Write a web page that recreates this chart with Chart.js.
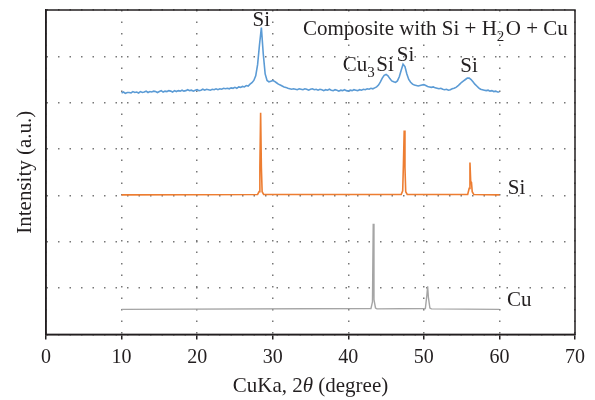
<!DOCTYPE html>
<html>
<head>
<meta charset="utf-8">
<script src="https://cdn.jsdelivr.net/npm/chart.js@4/dist/chart.umd.min.js"></script>
<style>
  html, body { margin: 0; padding: 0; background: #fff; }
  #wrap { width: 595px; height: 400px; }
</style>
</head>
<body>
<div id="wrap"><canvas id="xrd"></canvas></div>
<script>
// Eixo x: 0..70 graus, marcas a cada 10
const xTicks = [0, 10, 20, 30, 40, 50, 60, 70];

// Compósito (azul): amostrado de 10 a 60 em passos de 0.25 grau
const compStart = 10;
const compStep = 0.25;
const compValues = [
  5.21, 5.23, 5.20, 5.22,  5.22, 5.21, 5.24, 5.22,  5.23, 5.21, 5.24, 5.22,
  5.23, 5.25, 5.22, 5.24,  5.23, 5.25, 5.24, 5.22,  5.24, 5.26, 5.23, 5.25,
  5.24, 5.26, 5.25, 5.23,  5.26, 5.24, 5.26, 5.25,  5.27, 5.25, 5.26, 5.28,
  5.26, 5.27, 5.25, 5.27,  5.28, 5.26, 5.27, 5.29,  5.27, 5.29, 5.28, 5.27,
  5.29, 5.28, 5.30, 5.28,  5.30, 5.29, 5.31, 5.30,  5.31, 5.30, 5.32, 5.31,
  5.33, 5.31, 5.34, 5.33,  5.35, 5.34, 5.37, 5.36,  5.40, 5.43, 5.48, 5.58,
  5.82, 6.25, 6.62, 6.05,  5.62, 5.48, 5.45, 5.46,  5.48, 5.46, 5.43, 5.40,
  5.38, 5.36, 5.34, 5.33,  5.31, 5.30, 5.29, 5.30,  5.29, 5.28, 5.30, 5.29,
  5.28, 5.30, 5.29, 5.27,  5.29, 5.30, 5.28, 5.29,  5.27, 5.29, 5.28, 5.26,
  5.28, 5.27, 5.29, 5.27,  5.26, 5.28, 5.27, 5.25,  5.27, 5.26, 5.28, 5.26,
  5.25, 5.27, 5.26, 5.28,  5.27, 5.26, 5.28, 5.27,  5.29, 5.28, 5.30, 5.29,
  5.31, 5.30, 5.32, 5.34,  5.38, 5.45, 5.53, 5.59,  5.61, 5.58, 5.52, 5.47,
  5.45, 5.44, 5.47, 5.56,  5.70, 5.83, 5.78, 5.62,  5.50, 5.44, 5.40, 5.38,
  5.37, 5.36, 5.37, 5.38,  5.39, 5.37, 5.35, 5.34,  5.33, 5.34, 5.32, 5.31,
  5.30, 5.31, 5.29, 5.28,  5.29, 5.27, 5.28, 5.30,  5.31, 5.33, 5.36, 5.40,
  5.44, 5.47, 5.50, 5.53,  5.53, 5.50, 5.45, 5.40,  5.36, 5.32, 5.29, 5.28,
  5.27, 5.26, 5.27, 5.25,  5.26, 5.24, 5.25, 5.23,  5.23
];

// Si (laranja): ângulo e intensidade
const siAngles = [10, 28.0, 28.2, 28.3, 28.4, 28.5, 28.6, 28.8,
  47.0, 47.2, 47.3, 47.4, 47.5, 47.6, 47.8,
  55.8, 56.0, 56.1, 56.2, 56.3, 56.4, 56.6, 60];
const siValues = [3.01, 3.02, 3.08, 3.60, 4.78, 3.60, 3.08, 3.02,
  3.02, 3.10, 3.70, 4.40, 3.60, 3.08, 3.02,
  3.02, 3.15, 3.71, 3.30, 3.28, 3.08, 3.02, 3.01];

// Cu (cinza)
const cuAngles = [10, 43.0, 43.2, 43.3, 43.4, 43.6, 43.8, 50.2, 50.4, 50.5, 50.6, 50.8, 51.0, 60];
const cuValues = [0.54, 0.56, 0.70, 2.39, 0.75, 0.57, 0.55, 0.56, 0.85, 1.04, 0.80, 0.57, 0.55, 0.54];

const FONTE = '"Liberation Serif", "DejaVu Serif", serif';
const COR_TEXTO = '#231f20';
const TAM_TEXTO = 21;

// Rótulos dentro do gráfico (posição em coordenadas de dados)
const rotulos = [
  { x: 28.5, y: 6.65, align: 'center', runs: [['Si']] },
  { x: 34.0, y: 6.46, align: 'left', runs: [['Composite with Si + H'], ['2', 'sub'], ['O + Cu']] },
  { x: 42.54, y: 5.68, align: 'center', runs: [['Cu'], ['3', 'sub'], ['Si']] },
  { x: 47.58, y: 5.90, align: 'center', runs: [['Si']] },
  { x: 55.98, y: 5.66, align: 'center', runs: [['Si']] },
  { x: 61.1, y: 3.03, align: 'left', runs: [['Si']] },
  { x: 61.0, y: 0.61, align: 'left', runs: [['Cu']] }
];

function pontos(xs, ys) {
  return ys.map((v, i) => ({ x: xs[i], y: v }));
}

function pontosAmostrados(inicio, passo, ys) {
  return ys.map((v, i) => ({ x: inicio + i * passo, y: v }));
}

// Desenha uma sequência de trechos de texto (normal / subscrito / itálico)
function desenharTrechos(ctx, runs, x, y, align, size) {
  const fontOf = (kind) => {
    if (kind === 'sub') return `${Math.round(size * 0.7)}px ${FONTE}`;
    if (kind === 'it') return `italic ${size}px ${FONTE}`;
    return `${size}px ${FONTE}`;
  };
  let total = 0;
  runs.forEach(([t, k]) => { ctx.font = fontOf(k); total += ctx.measureText(t).width; });
  let cx = align === 'center' ? x - total / 2 : x;
  runs.forEach(([t, k]) => {
    ctx.font = fontOf(k);
    const dy = k === 'sub' ? size * 0.28 : 0;
    ctx.fillText(t, cx, y + dy);
    cx += ctx.measureText(t).width + (k === 'sub' ? 1.5 : 0);
  });
}

const pluginTextos = {
  id: 'textos',
  afterDraw(chart) {
    const { ctx, chartArea, scales } = chart;
    ctx.save();
    // moldura completa
    ctx.strokeStyle = COR_TEXTO;
    ctx.lineWidth = 1.5;
    ctx.strokeRect(chartArea.left, chartArea.top, chartArea.right - chartArea.left, chartArea.bottom - chartArea.top);

    ctx.fillStyle = COR_TEXTO;
    ctx.textBaseline = 'alphabetic';
    ctx.textAlign = 'left';
    rotulos.forEach(r => {
      desenharTrechos(ctx, r.runs, scales.x.getPixelForValue(r.x), scales.y.getPixelForValue(r.y), r.align, TAM_TEXTO);
    });

    // título do eixo x
    ctx.textBaseline = 'middle';
    desenharTrechos(ctx, [['CuKa, 2'], ['θ', 'it'], [' (degree)']],
      (chartArea.left + chartArea.right) / 2, chartArea.bottom + 52, 'center', TAM_TEXTO);

    // título do eixo y
    ctx.translate(chartArea.left - 21, (chartArea.top + chartArea.bottom) / 2);
    ctx.rotate(-Math.PI / 2);
    ctx.textAlign = 'center';
    ctx.font = `${TAM_TEXTO}px ${FONTE}`;
    ctx.fillText('Intensity (a.u.)', 0, 0);
    ctx.restore();
  }
};

const ctx = document.getElementById('xrd');

new Chart(ctx.getContext('2d'), {
  type: 'line',
  data: {
    datasets: [
      {
        label: 'Composite with Si + H2O + Cu',
        data: pontosAmostrados(compStart, compStep, compValues),
        borderColor: '#5b9bd5',
        borderWidth: 1.6
      },
      {
        label: 'Si',
        data: pontos(siAngles, siValues),
        borderColor: '#ed7d31',
        borderWidth: 1.6
      },
      {
        label: 'Cu',
        data: pontos(cuAngles, cuValues),
        borderColor: '#a5a5a5',
        borderWidth: 1.4
      }
    ]
  },
  options: {
    responsive: true,
    maintainAspectRatio: false,
    animation: false,
    layout: { padding: { left: 46, right: 20, top: 10, bottom: 24.6 } },
    elements: { point: { radius: 0 }, line: { tension: 0 } },
    plugins: {
      legend: { display: false },
      tooltip: { enabled: false }
    },
    scales: {
      x: {
        type: 'linear',
        min: 0,
        max: 70,
        afterBuildTicks: (scale) => { scale.ticks = xTicks.map(v => ({ value: v })); },
        ticks: {
          color: COR_TEXTO,
          padding: 6,
          maxRotation: 0,
          font: { family: FONTE, size: 20 }
        },
        grid: {
          color: '#777',
          lineWidth: 1.5,
          tickColor: COR_TEXTO,
          tickWidth: 1.5,
          tickLength: 5
        },
        border: { color: COR_TEXTO, width: 1.5, dash: [1.5, 10] }
      },
      y: {
        min: 0,
        max: 7,
        ticks: { display: false, stepSize: 1 },
        grid: { color: '#777', lineWidth: 1.5, drawTicks: false },
        border: { color: COR_TEXTO, width: 1.5, dash: [1.5, 10] }
      }
    }
  },
  plugins: [pluginTextos]
});
</script>
</body>
</html>
